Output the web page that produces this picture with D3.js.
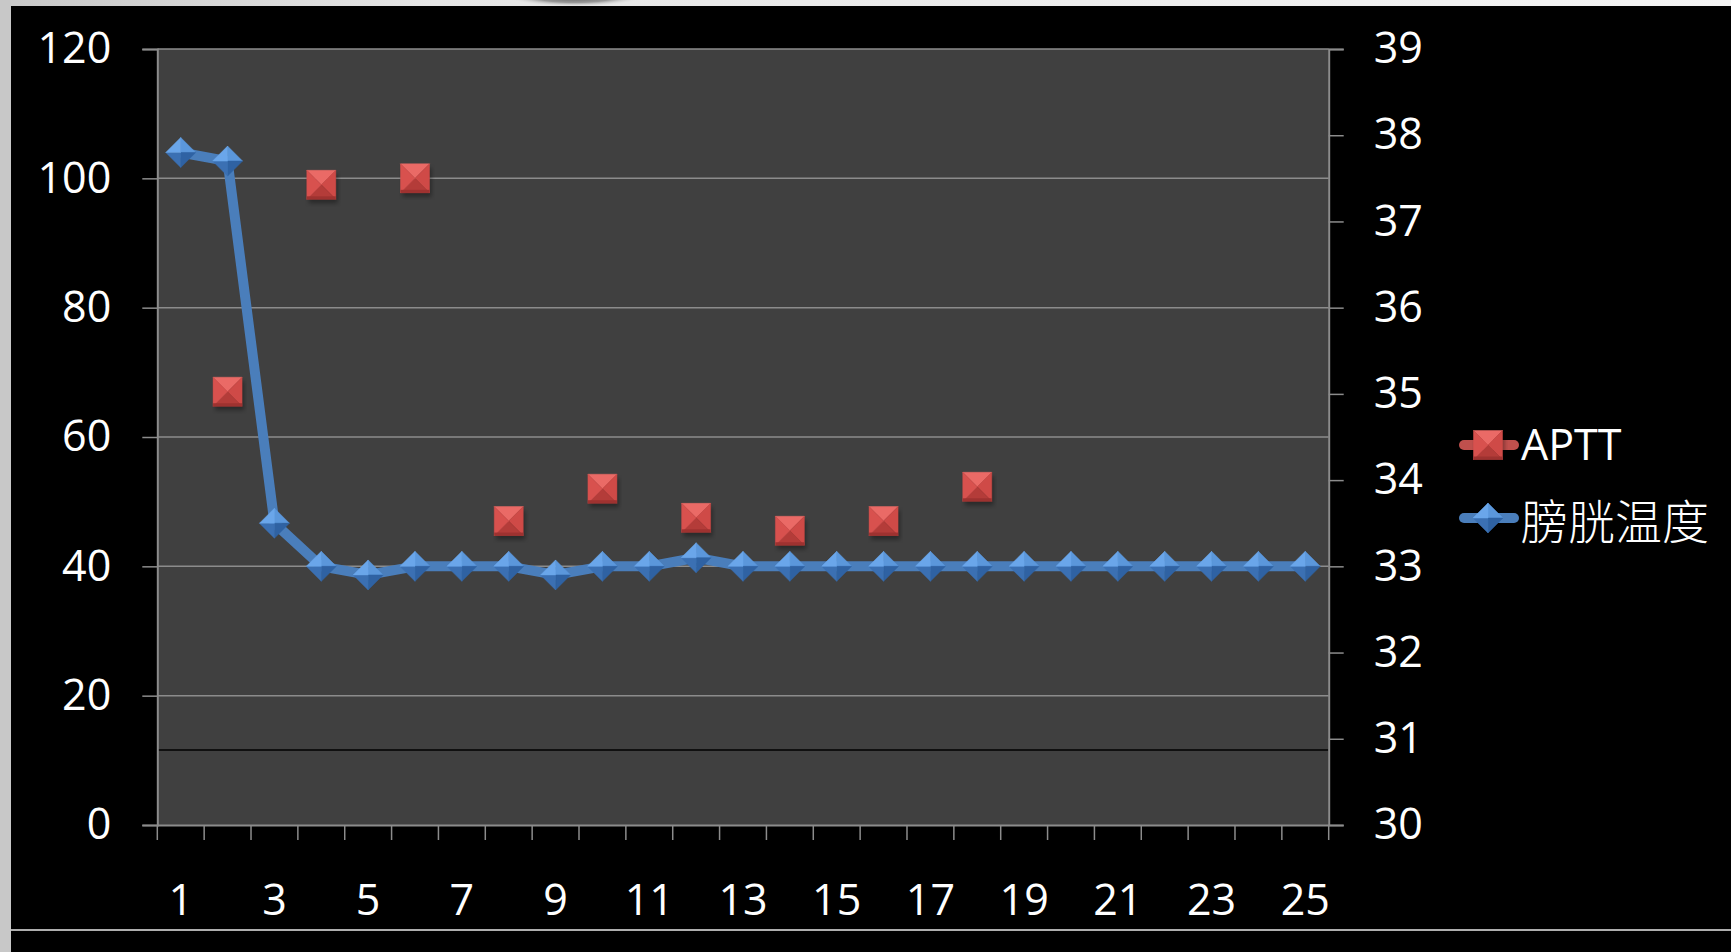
<!DOCTYPE html>
<html><head><meta charset="utf-8">
<script src="https://cdn.jsdelivr.net/npm/d3@7"></script>
<style>
html,body{margin:0;padding:0;background:#000;}
svg{display:block;}
</style></head>
<body>
<svg id="chart" width="1731" height="952"></svg>
<script>
// ---- data ----
const categories = d3.range(1, 26);
const xTickLabels = [1,3,5,7,9,11,13,15,17,19,21,23,25];
const aptt = [null,67,null,99,null,100,null,47,null,52,null,47.5,null,45.5,null,47,null,52.3,null,null,null,null,null,null,null];
const bladderTemp = [37.8,37.7,33.5,33.0,32.9,33.0,33.0,33.0,32.9,33.0,33.0,33.1,33.0,33.0,33.0,33.0,33.0,33.0,33.0,33.0,33.0,33.0,33.0,33.0,33.0];
const leftTicks = [0,20,40,60,80,100,120];
const rightTicks = [30,31,32,33,34,35,36,37,38,39];
const refLine = [11.6];
const seriesNames = ["APTT", "膀胱温度"];

// ---- layout ----
const svg = d3.select("#chart");
const L = 157.3, R = 1328.7, T = 49, B = 825;
const font = "'Open Sans', 'Liberation Sans', sans-serif";
const fontSize = "43px";

svg.append("rect").attr("x",0).attr("y",0).attr("width",1731).attr("height",952).attr("fill","#000");
const defs = svg.append("defs");
const tg = defs.append("linearGradient").attr("id","topg").attr("x1",0).attr("x2",1).attr("y1",0).attr("y2",0);
tg.append("stop").attr("offset","0%").attr("stop-color","#c8c8c8");
tg.append("stop").attr("offset","25%").attr("stop-color","#e6e6e6");
tg.append("stop").attr("offset","100%").attr("stop-color","#f4f4f4");
svg.append("rect").attr("x",0).attr("y",0).attr("width",1731).attr("height",6).attr("fill","url(#topg)");
const rg = defs.append("radialGradient").attr("id","blob");
rg.append("stop").attr("offset","0%").attr("stop-color","#555");
rg.append("stop").attr("offset","60%").attr("stop-color","#999");
rg.append("stop").attr("offset","100%").attr("stop-color","#eee").attr("stop-opacity",0);
svg.append("ellipse").attr("cx",575).attr("cy",-4).attr("rx",70).attr("ry",11).attr("fill","url(#blob)");
svg.append("rect").attr("x",0).attr("y",0).attr("width",11).attr("height",952).attr("fill","#c8c8c8");
svg.append("rect").attr("x",11).attr("y",6).attr("width",1720).attr("height",946).attr("fill","#000");
svg.append("line").attr("x1",11).attr("x2",1731).attr("y1",930).attr("y2",930).attr("stroke","#e8e8e8").attr("stroke-width",1.5);

// scales
const x = d3.scaleBand().domain(categories).range([L, R]).padding(0);
const yL = d3.scaleLinear().domain([0,120]).range([B, T]);
const yR = d3.scaleLinear().domain([30,39]).range([B, T]);

// plot area
svg.append("rect").attr("x",L).attr("y",T).attr("width",R-L).attr("height",B-T).attr("fill","#404040");

// gridlines
svg.append("g").selectAll("line").data(leftTicks.filter(d=>d>0)).join("line")
  .attr("x1",L).attr("x2",R).attr("y1",d=>yL(d)).attr("y2",d=>yL(d))
  .attr("stroke","#8c8c8c").attr("stroke-width",1.5);

// reference black line
svg.append("g").selectAll("line").data(refLine).join("line")
  .attr("x1",L).attr("x2",R).attr("y1",d=>yL(d)).attr("y2",d=>yL(d))
  .attr("stroke","#000").attr("stroke-width",1.5);

// axes
const axisColor = "#8c8c8c";
const leftAxis = svg.append("g").attr("transform",`translate(${L},0)`)
  .call(d3.axisLeft(yL).tickValues(leftTicks).tickSize(15).tickPadding(31).tickFormat(d3.format("d")));
const rightAxis = svg.append("g").attr("transform",`translate(${R},0)`)
  .call(d3.axisRight(yR).tickValues(rightTicks).tickSize(15).tickPadding(30).tickFormat(d3.format("d")));
const bottomAxis = svg.append("g").attr("transform",`translate(0,${B})`)
  .call(d3.axisBottom(x).tickValues(categories).tickSize(0).tickFormat(d => xTickLabels.includes(d) ? d : ""));
svg.append("g").selectAll("line").data(categories.concat([null])).join("line")
  .attr("x1",(d,i)=> i < categories.length ? x(d) : R)
  .attr("x2",(d,i)=> i < categories.length ? x(d) : R)
  .attr("y1",B).attr("y2",B+15).attr("stroke",axisColor).attr("stroke-width",1.5);

[leftAxis,rightAxis,bottomAxis].forEach(g=>{
  g.select(".domain").attr("stroke",axisColor).attr("stroke-width",2);
  g.selectAll(".tick line").attr("stroke",axisColor).attr("stroke-width",1.5);
  g.selectAll("text").attr("fill","#fff").style("font-family",font).style("font-size",fontSize);
});
bottomAxis.selectAll("text").attr("y",0).attr("dy",0).attr("transform","translate(0,90)");

// blue line
const lineGen = d3.line().x((d,i)=>x(categories[i]) + x.bandwidth()/2).y(d=>yR(d));
svg.append("path").datum(bladderTemp).attr("d",lineGen)
  .attr("fill","none").attr("stroke","#4a7ebb").attr("stroke-width",10).attr("stroke-linejoin","round");

defs.append("filter").attr("id","blur").append("feGaussianBlur").attr("stdDeviation",2);

function diamond(g, cx, cy, r){
  const c = [cx,cy], t=[cx,cy-r], rr=[cx+r,cy], b=[cx,cy+r], l=[cx-r,cy];
  const facets = [[t,rr,"#5b97db"],[rr,b,"#2f62a3"],[b,l,"#3b70b3"],[l,t,"#6aa6ea"]];
  facets.forEach(([p1,p2,col])=>{
    g.append("path").attr("d",`M${c}L${p1}L${p2}Z`).attr("fill",col).attr("stroke",col).attr("stroke-width",0.5);
  });
}
function square(g, cx, cy, h){
  g.append("rect").attr("x",cx-h+2).attr("y",cy-h+4).attr("width",2*h).attr("height",2*h)
    .attr("fill","#000").attr("opacity",0.35).attr("filter","url(#blur)");
  const c=[cx,cy], tl=[cx-h,cy-h], tr=[cx+h,cy-h], br=[cx+h,cy+h], bl=[cx-h,cy+h];
  const facets=[[tl,tr,"#ea6a66"],[tr,br,"#cf4a47"],[br,bl,"#b43c39"],[bl,tl,"#d8514e"]];
  facets.forEach(([p1,p2,col])=>{
    g.append("path").attr("d",`M${c}L${p1}L${p2}Z`).attr("fill",col).attr("stroke",col).attr("stroke-width",0.5);
  });
  g.append("rect").attr("x",cx-h).attr("y",cy+h-3).attr("width",2*h).attr("height",3).attr("fill","#9e3230");
}

const dg = svg.append("g");
bladderTemp.forEach((v,i)=> diamond(dg, x(categories[i]) + x.bandwidth()/2, yR(v), 15));

const sg = svg.append("g");
aptt.forEach((v,i)=>{ if(v!=null) square(sg, x(categories[i]) + x.bandwidth()/2, yL(v), 14.5); });

// legend
const lg = svg.append("g");
const legendY = [445, 518];
const legendColors = ["#c0504d", "#4a7ebb"];
seriesNames.forEach((name,i)=>{
  lg.append("line").attr("x1",1464).attr("x2",1514).attr("y1",legendY[i]).attr("y2",legendY[i])
    .attr("stroke",legendColors[i]).attr("stroke-width",10).attr("stroke-linecap","round");
  if(i===0) square(lg,1488,legendY[i],14.5); else diamond(lg,1488,legendY[i],15);
  const t = lg.append("text").attr("x",1521).attr("fill","#fff").text(name);
  if(i===0){
    t.attr("y",legendY[i]+15).style("font-family",font).style("font-size",fontSize);
  } else {
    t.attr("y",legendY[i]).attr("dominant-baseline","central")
     .style("font-family","'Noto Sans CJK SC', sans-serif").style("font-weight",300).style("font-size","47px");
  }
});
</script>
</body></html>
